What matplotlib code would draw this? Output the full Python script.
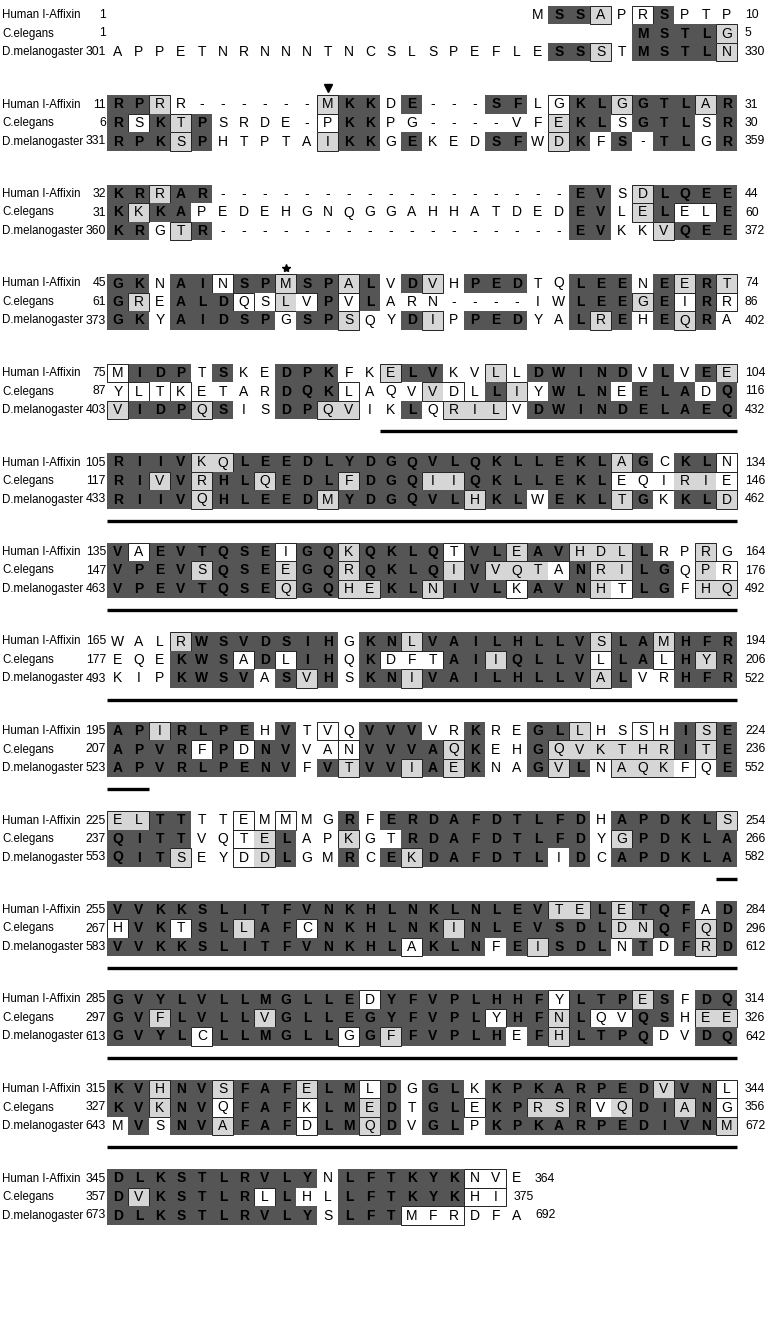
import matplotlib
matplotlib.use('Agg')
import matplotlib.pyplot as plt
from matplotlib.patches import Rectangle

names = ['Human I-Affixin', 'C.elegans', 'D.melanogaster']

# sequences, 30 columns per block ('-' gap, ' ' nothing)
human_seq = [' ' * 20 + 'MSSAPRSPTP', 'RPRR------MKKDE---SFLGKLGGTLAR',
             'KRRAR' + '-' * 17 + 'EVSDLQEE', 'GKNAINSPMSPALVDVHPEDTQLEENEERT',
             'MIDPTSKEDPKFKELVKVLLDWINDVLVEE', 'RIIVKQLEEDLYDGQVLQKLLEKLAGCKLN',
             'VAEVTQSEIGQKQKLQTVLEAVHDLLRPRG', 'WALRWSVDSIHGKNLVAILHLLVSLAMHFR',
             'APIRLPEHVTVQVVVVRKREGLLHSSHISE', 'ELTTTTEMMMGRFERDAFDTLFDHAPDKLS',
             'VVKKSLITFVNKHLNKLNLEVTELETQFAD', 'GVYLVLLMGLLEDYFVPLHHFYLTPESFDQ',
             'KVHNVSFAFELMLDGGLKKPKARPEDVVNL', 'DLKSTLRVLYNLFTKYKNVE']
celeg_seq = [' ' * 25 + 'MSTLG', 'RSKTPSRDE-PKKPG----VFEKLSGTLSR',
             'KKKAPEDEHGNQGGAHHATDEDEVLELELE', 'GREALDQSLVPVLARN----IWLEEGEIRR',
             'YLTKETARDQKLAQVVDLLIYWLNEELADQ', 'RIVVRHLQEDLFDGQIIQKLLEKLEQIRIE',
             'VPEVSQSEEGQRQKLQIVVQTANRILGQPR', 'EQEKWSADLIHQKDFTAIIQLLVLLALHYR',
             'APVRFPDNVVANVVVAQKEHGQVKTHRITE', 'QITTVQTELAPKGTRDAFDTLFDYGPDKLA',
             'HVKTSLLAFCNKHLNKINLEVSDLDNQFQD', 'GVFLVLLVGLLEGYFVPLYHFNLQVQSHEE',
             'KVKNVQFAFKLMEDTGLEKPRSRVQDIANG', 'DVKSTLRLLHLLFTKYKHI']
dmel_seq = ['APPETNRNNNTNCSLSPEFLESSSTMSTLN', 'RPKSPHTPTAIKKGEKEDSFWDKFS-TLGR',
            'KRGTR' + '-' * 17 + 'EVKKVQEE', 'GKYAIDSPGSPSQYDIPPEDYALREHEQRA',
            'VIDPQSISDPQVIKLQRILVDWINDELAEQ', 'RIIVQHLEEDMYDGQVLHKLWEKLTGKKLD',
            'VPEVTQSEQGQHEKLNIVLKAVNHTLGFHQ', 'KIPKWSVASVHSKNIVAILHLLVALVRHFR',
            'APVRLPENVFVTVVIAEKNAGVLNAQKFQE', 'QITSEYDDLGMRCEKDAFDTLIDCAPDKLA',
            'VVKKSLITFVNKHLAKLNFEISDLNTDFRD', 'GVYLCLLMGLLGGFFVPLHEFHLTPQDVDQ',
            'MVSNVAFAFDLMQDVGLPKPKARPEDIVNM', 'DLKSTLRVLYSLFTMFRDFA']

# shading: D identical (dark), L similar (light), W boxed white, . none
human_shade = ['.' * 20 + '.DDL.WD...', 'DDL.......LDD.D...DD.WDDLDDDLD',
               'DDLDD' + '.' * 17 + 'DD.LDDDD', 'DD.DDWDDLDDLD.DL.DDD..DDD.DLDL',
               'WDDD.D..DDD..LDD..L.DDDDD.D.DL', 'DDDDLLDDDDDDDDDDDDDDDDDDLD.DDW',
               'DWDDDDDDWDDLDDDDWDDLDDLLLD..L.', '...LDDDDDDD.DDLDDDDDDDDLDDLDDD',
               'DDLDDDD.D.W.DDD..D..DDL..W.DLD', 'LLDD..W.W..D.DDDDDDDDDD.DDDDDL',
               'DDDDDDDDDDDDDDDDDDDDDLLDLDDD.D', 'DDDDDDDDDDDDWDDDDDDDDWDDDLD.DD',
               'DDLDDLDDDLDDWD.DD.DDDDDDDDLDDW', 'DDDDDDDDDD.DDDDDDWW.']
celeg_shade = ['.' * 25 + 'DDDDL', 'DWDLD.....WDD........LDD.DDD.D',
               'DLDD' + '.' * 18 + 'DD.LDWWD', 'DL.DDDW.LWDWD.........DDDLDWDW',
               '.W.W....DDDW...LW.DL.DDD.DDD.D', 'DDLDLDDLDDDLDDDLLDDDDDDDWWWLLW',
               'DDDDLDDDLDDLDDDDLDLLLWDLLDD.LW', '...DDDWDWDD.DWWWDDLDDDDWDDWDLD',
               'DDDDWDWDD..WDDDDLD..DLLLLLLDLD', 'DDDD..WLD..L..DDDDDDDDD.LDDDDD',
               'WDDWDDLDDWDDDDDDLDDDDDDDLLDDLD', 'DDLDDDDLDDDDDDDDDDWDDLDWWDD.LL',
               'DDLDDWDDDWDDLD.DDWDDLLDWLDDLDW', 'DLDDDDDWD..DDDDDDWW']
dmel_shade = ['.' * 21 + 'DDL.DDDDL', 'DDDLD.....LDD.D...DD.LD.D.DD.D',
              'DD.LD' + '.' * 17 + 'DD..LDDD', 'DD.DDDDD.DDL..DL.DDD..DLD.DLD.',
              'LDDDLD..DDLL..D.LLL.DDDDDDDDDD', 'DDDDLDDDDDLDDDDDDLDD.DDDLD.DDL',
              'DDDDDDDDLDDLLDDLDDDWDDDLWDD.LL', '...DDDD.DLD.DDLDDDDDDDDLD..DDD',
              'DDDDDDDDD.DLDDLDLD..DLD.LLLW.D', 'DDDL..WLD..D.DLDDDDDD.D.DDDDDD',
              'DDDDDDDDDDDDDDWDDD.DLDDD.D.DLD', 'DDDDWDDDDDDWDLDDDDD.DLDDDD..DD',
              '.D.DDLDDDWDDLD.DD.DDDDDDDDDDDL', 'DDDDDDDDDD.DDDWWW...']

human_start = [1, 11, 32, 45, 75, 105, 135, 165, 195, 225, 255, 285, 315, 345]
human_end = [10, 31, 44, 74, 104, 134, 164, 194, 224, 254, 284, 314, 344, 364]
celeg_start = [1, 6, 31, 61, 87, 117, 147, 177, 207, 237, 267, 297, 327, 357]
celeg_end = [5, 30, 60, 86, 116, 146, 176, 206, 236, 266, 296, 326, 356, 375]
dmel_start = [301, 331, 360, 373, 403, 433, 463, 493, 523, 553, 583, 613, 643, 673]
dmel_end = [330, 359, 372, 402, 432, 462, 492, 522, 552, 582, 612, 642, 672, 692]

# underlined column spans per block (first, last)
underline = [None, None, None, None, (13, 29), (0, 29), (0, 29), (0, 29),
             (0, 1), (29, 29), (0, 29), (0, 29), (0, 29), None]

# block, column of the marks above the human row
triangle_mark = (1, 10)
star_mark = (3, 8)

DARK = '#555555'
LIGHT = '#d6d6d6'
fam = ['Liberation Sans Narrow', 'Liberation Sans', 'DejaVu Sans']

fig = plt.figure(figsize=(7.78, 13.25), dpi=100)
ax = fig.add_axes([0, 0, 1, 1])
ax.set_xlim(0, 778)
ax.set_ylim(1325, 0)
ax.axis('off')

x0, dx = 118, 21.0
y0, dy, dblock = 15, 18.5, 89.5


def col_x(i):
    return x0 + dx * i


seqs = [human_seq, celeg_seq, dmel_seq]
shades = [human_shade, celeg_shade, dmel_shade]
starts = [human_start, celeg_start, dmel_start]
ends = [human_end, celeg_end, dmel_end]

for b in range(len(human_seq)):
    for r in range(3):
        y = y0 + dblock * b + dy * r
        seq = seqs[r][b]
        sh = shades[r][b].ljust(len(seq), '.')
        ax.text(2, y, names[r], ha='left', va='center', fontsize=8.3, family=fam)
        ax.text(106, y, str(starts[r][b]), ha='right', va='center', fontsize=8.8, family=fam)
        last = 0
        for i, ch in enumerate(seq):
            if ch == ' ':
                continue
            last = i
            x = col_x(i)
            code = sh[i]
            if code == 'D':
                ax.add_patch(Rectangle((x - dx / 2, y - dy / 2), dx, dy, facecolor=DARK,
                                       edgecolor='none'))
            elif code == 'L':
                ax.add_patch(Rectangle((x - dx / 2, y - dy / 2), dx, dy, facecolor=LIGHT,
                                       edgecolor='none'))
            ax.text(x, y, ch, ha='center', va='center', fontsize=10, family=fam,
                    fontweight='bold' if code == 'D' else 'normal')
        # thin outlines around runs of light / boxed cells
        i = 0
        while i < len(sh):
            if sh[i] in 'LW':
                j = i
                while j + 1 < len(sh) and sh[j + 1] in 'LW':
                    j += 1
                ax.add_patch(Rectangle((col_x(i) - dx / 2, y - dy / 2), dx * (j - i + 1), dy,
                                       facecolor='none', edgecolor='#222222', lw=0.7))
                i = j + 1
            else:
                i += 1
        ax.text(col_x(last) + 18, y, str(ends[r][b]), ha='left', va='center',
                fontsize=8.8, family=fam)
    if underline[b] is not None:
        a, e = underline[b]
        yu = y0 + dblock * b + dy * 2 + 21
        ax.plot([col_x(a) - dx / 2, col_x(e) + dx / 2], [yu, yu], color='black', lw=2.4,
                solid_capstyle='butt')

bt, ct = triangle_mark
ax.plot(col_x(ct), y0 + dblock * bt - 17, marker='v', color='black', markersize=6)
bs, cs = star_mark
ax.plot(col_x(cs), y0 + dblock * bs - 16, marker='*', color='black', markersize=6)

fig.savefig('out.png', dpi=100)
